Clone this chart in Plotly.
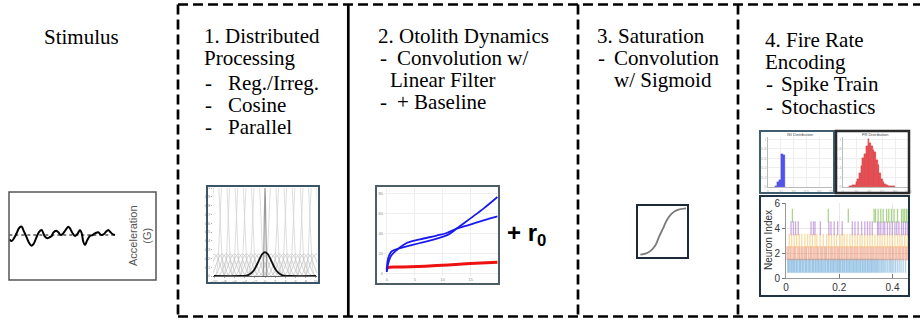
import plotly.graph_objects as go

W, H = 920, 322

# ---------------- data ----------------
# Stimulus waveform (time, acceleration)
STIM_T = [0.0, 0.22, 0.44, 0.69, 0.95, 1.17, 1.39, 1.64, 1.89, 2.11, 2.33, 2.59, 2.84, 3.06,
          3.22, 3.38, 3.60, 3.79, 4.01, 4.16, 4.42, 4.64, 4.86, 5.11, 5.33, 5.58, 5.74, 5.99,
          6.21, 6.44, 6.69, 6.85, 7.00, 7.16, 7.38, 7.63, 7.89, 8.11, 8.26, 8.42, 8.58, 8.74,
          8.96, 9.15, 9.37, 9.53, 9.75, 10.0]
STIM_ACC = [-0.43, -0.6, -0.33, 0.17, 0.73, 0.83, 0.33, -0.23, -0.83, -1.07, -0.83, -0.17, 0.33, 0.5,
            0.17, -0.17, -0.33, -0.23, -0.1, 0.23, 0.43, 0.27, 0.0, 0.17, 0.5, 0.83, 0.67, 0.17,
            -0.1, 0.1, 0.5, 0.17, -0.67, -1.0, -0.5, -0.1, 0.0, 0.17, 0.23, 0.27, 0.1, 0.0,
            0.1, 0.33, 0.5, 0.33, 0.1, 0.0]

# Distributed cosine basis
BUMP_OFFSETS = [-1.0, -0.8, -0.6, -0.4, -0.2, 0.0, 0.2, 0.4, 0.6, 0.8, 1.0]
BUMP_PROFILE = [0.0, 0.095, 0.345, 0.655, 0.905, 1.0, 0.905, 0.655, 0.345, 0.095, 0.0]
TALL_CENTERS = [-9.6, -8.0, -6.4, -4.8, -3.2, -1.6, 1.6, 3.2, 4.8, 6.4, 8.0, 9.6]
TALL_HALFWIDTH = 1.6
TALL_HEIGHT = 1.35
LOW_CENTERS = [-10.0, -9.2, -8.4, -7.6, -6.8, -6.0, -5.2, -4.4, -3.6, -2.8, -2.0, -1.2, -0.4,
               0.4, 1.2, 2.0, 2.8, 3.6, 4.4, 5.2, 6.0, 6.8, 7.6, 8.4, 9.2, 10.0]
LOW_HALFWIDTH = 2.4
LOW_HEIGHT = 0.25
SPIKE_CENTER = 0.0
SPIKE_HALFWIDTH = 0.35
GAUSS_X = [-10, -5, -4, -3.5, -3, -2.5, -2, -1.5, -1, -0.5, 0, 0.5, 1, 1.5, 2, 2.5, 3, 3.5, 4, 5, 10]
GAUSS_Y = [0, 0, 0.002, 0.007, 0.019, 0.043, 0.083, 0.139, 0.201, 0.251, 0.27,
           0.251, 0.201, 0.139, 0.083, 0.043, 0.019, 0.007, 0.002, 0, 0]

# Otolith dynamics responses
OTO_A_X = [0, 0.12, 0.42, 0.89, 2.08, 3.57, 5.95, 8.93, 11.0, 12.5, 14.9, 17.3, 19.8]
OTO_A_Y = [1.3, 11.3, 18.0, 22.0, 24.7, 27.0, 30.3, 34.7, 38.7, 44.7, 54.7, 64.7, 76.3]
OTO_B_X = [0, 0.24, 0.71, 1.49, 2.08, 3.57, 5.95, 8.93, 10.7, 12.5, 14.9, 17.3, 19.8]
OTO_B_Y = [2.3, 9.7, 17.0, 22.0, 24.7, 30.3, 34.0, 37.7, 40.3, 44.7, 48.7, 53.0, 57.0]
OTO_R_X = [0, 0.18, 2.98, 8.93, 14.9, 19.8]
OTO_R_Y = [4.3, 5.7, 6.3, 7.7, 9.7, 11.0]

# Sigmoid
SIG_X = [0.03, 0.14, 0.24, 0.35, 0.43, 0.52, 0.59, 0.69, 0.82, 1.0]
SIG_Y = [0.03, 0.05, 0.10, 0.22, 0.40, 0.58, 0.73, 0.86, 0.94, 0.97]

# ISI histogram (blue) and firing-rate histogram (red)
HB_X = [13.0, 16.1, 19.2, 22.4, 25.5]
HB_Y = [0.03, 0.11, 0.15, 0.70, 0.67]
HR_X = [10.4, 13.0, 15.6, 18.2, 20.8, 23.4, 26.0, 28.6, 31.2, 33.8, 36.4, 39.0, 41.6, 44.2,
        46.8, 49.4, 52.0, 54.6, 57.2, 59.8, 62.4, 65.0, 67.6, 70.2, 72.8, 75.4, 78.0]
HR_Y = [0.013, 0.02, 0.033, 0.047, 0.1, 0.167, 0.3, 0.433, 0.6, 0.7, 0.867, 1.0, 0.933, 0.867,
        0.767, 0.733, 0.567, 0.467, 0.3, 0.167, 0.1, 0.067, 0.047, 0.03, 0.027, 0.015, 0.013]

# Spike trains (seconds) per neuron index
SPIKES_1 = [0.006, 0.010, 0.013, 0.018, 0.021, 0.025, 0.029, 0.032, 0.037, 0.040, 0.044, 0.049,
            0.052, 0.055, 0.060, 0.063, 0.067, 0.072, 0.075, 0.078, 0.083, 0.087, 0.090, 0.094,
            0.099, 0.102, 0.105, 0.110, 0.113, 0.117, 0.121, 0.124, 0.128, 0.132, 0.135, 0.139,
            0.143, 0.147, 0.150, 0.155, 0.158, 0.161, 0.166, 0.169, 0.173, 0.177, 0.180, 0.184,
            0.188, 0.192, 0.195, 0.199, 0.203, 0.206, 0.211, 0.214, 0.218, 0.221, 0.226, 0.229,
            0.233, 0.237, 0.240, 0.244, 0.248, 0.252, 0.255, 0.259, 0.263, 0.266, 0.270, 0.274,
            0.278, 0.281, 0.286, 0.289, 0.293, 0.297, 0.300, 0.305, 0.308, 0.312, 0.316, 0.320,
            0.323, 0.327, 0.331, 0.335, 0.339, 0.343, 0.347, 0.352, 0.357, 0.361, 0.366, 0.371,
            0.376, 0.382, 0.388, 0.393, 0.398, 0.405, 0.411, 0.418, 0.425, 0.432, 0.440, 0.449]
SPIKES_2 = [0.004, 0.009, 0.015, 0.019, 0.026, 0.031, 0.035, 0.042, 0.048, 0.052, 0.058, 0.063,
            0.069, 0.074, 0.078, 0.085, 0.091, 0.095, 0.101, 0.106, 0.112, 0.117, 0.121, 0.128,
            0.133, 0.138, 0.144, 0.149, 0.153, 0.160, 0.166, 0.171, 0.176, 0.182, 0.187, 0.193,
            0.198, 0.203, 0.209, 0.214, 0.220, 0.226, 0.230, 0.236, 0.242, 0.247, 0.252, 0.258,
            0.263, 0.268, 0.274, 0.280, 0.285, 0.290, 0.296, 0.301, 0.307, 0.312, 0.318, 0.323,
            0.328, 0.334, 0.339, 0.345, 0.350, 0.356, 0.361, 0.366, 0.372, 0.377, 0.383, 0.388,
            0.393, 0.399, 0.404, 0.410, 0.415, 0.421, 0.426, 0.431, 0.437, 0.442, 0.448, 0.453, 0.458]
SPIKES_3 = [0.012, 0.021, 0.031, 0.040, 0.050, 0.059, 0.071, 0.081, 0.090, 0.099, 0.109, 0.116,
            0.128, 0.140, 0.153, 0.161, 0.171, 0.181, 0.190, 0.203, 0.211, 0.219, 0.229, 0.240,
            0.249, 0.259, 0.268, 0.278, 0.286, 0.296, 0.306, 0.315, 0.324, 0.334, 0.344, 0.353,
            0.361, 0.371, 0.381, 0.390, 0.399, 0.409, 0.419, 0.428, 0.436, 0.446, 0.456]
SPIKES_4 = [0.019, 0.028, 0.036, 0.046, 0.094, 0.103, 0.109, 0.129, 0.161, 0.169, 0.181, 0.194,
            0.211, 0.249, 0.259, 0.271, 0.284, 0.296, 0.306, 0.315, 0.324, 0.344, 0.349, 0.356,
            0.365, 0.371, 0.381, 0.390, 0.399, 0.409, 0.416, 0.424, 0.434, 0.441, 0.449, 0.456]
SPIKES_5 = [0.024, 0.159, 0.234, 0.331, 0.336, 0.346, 0.356, 0.365, 0.378, 0.386, 0.396, 0.406,
            0.419, 0.434, 0.440, 0.446, 0.453, 0.459]
SPIKE_ROWS = [SPIKES_1, SPIKES_2, SPIKES_3, SPIKES_4, SPIKES_5]
SPIKE_COLORS = ["rgba(80,155,210,0.45)", "rgba(232,125,85,0.5)", "rgba(246,195,100,0.6)",
                "rgba(170,115,205,0.6)", "rgba(135,195,90,0.7)"]

# Texts
STIM_TITLE = "Stimulus"
COL1 = ["1. Distributed", "Processing"]
COL1_ITEMS = ["Reg./Irreg.", "Cosine", "Parallel"]
COL2 = ["2. Otolith Dynamics"]
COL2_ITEMS = ["Convolution w/", "Linear Filter", "+ Baseline"]
COL3 = ["3. Saturation"]
COL3_ITEMS = ["Convolution", "w/ Sigmoid"]
COL4 = ["4. Fire Rate", "Encoding"]
COL4_ITEMS = ["Spike Train", "Stochastics"]

# ---------------- helpers ----------------
def fx(x):
    return x / W


def fy(y):
    return 1 - y / H


fig = go.Figure()
layout_axes = {}


def add_axes(n, x0, x1, y0, y1, xr, yr, xkw=None, ykw=None):
    base = dict(showgrid=False, zeroline=False, showticklabels=False, ticks="",
                fixedrange=True, automargin=False, showline=False)
    xa = dict(base, domain=[fx(x0), fx(x1)], range=xr, anchor="y%d" % n)
    ya = dict(base, domain=[fy(y1), fy(y0)], range=yr, anchor="x%d" % n)
    if xkw:
        xa.update(xkw)
    if ykw:
        ya.update(ykw)
    layout_axes["xaxis%d" % n] = xa
    layout_axes["yaxis%d" % n] = ya
    return "x%d" % n, "y%d" % n


# 1. stimulus
xa, ya = add_axes(1, 9, 156, 192, 280, [-0.03, 13.88], [-4.5, 4.3])
fig.add_trace(go.Scatter(x=[STIM_T[0], STIM_T[-1]], y=[0, 0], mode="lines",
                         line=dict(color="black", width=1.2, dash="dot"), xaxis=xa, yaxis=ya))
fig.add_trace(go.Scatter(x=STIM_T, y=STIM_ACC, mode="lines", line=dict(color="black", width=2, shape="spline"),
                         xaxis=xa, yaxis=ya))

# 2. cosine basis
tiny = dict(size=4, color="#888", family="Liberation Sans")
xa, ya = add_axes(2, 213, 317, 188, 276, [-10.2, 10.2], [0, 1.0],
                  xkw=dict(showticklabels=True, tickvals=[-10, -8, -6, -4, -2, 0, 2, 4, 6, 8, 10],
                           tickfont=tiny, ticks="outside", ticklen=1, tickcolor="#aaa",
                           showline=True, linecolor="#666", linewidth=1),
                  ykw=dict(showticklabels=True, tickvals=[0, 0.1, 0.2, 0.3, 0.4, 0.5, 0.6, 0.7, 0.8, 0.9, 1.0],
                           tickfont=tiny, ticks="outside", ticklen=1, tickcolor="#aaa"))
for c in TALL_CENTERS:
    fig.add_trace(go.Scatter(x=[c + o * TALL_HALFWIDTH for o in BUMP_OFFSETS],
                             y=[p * TALL_HEIGHT for p in BUMP_PROFILE], mode="lines",
                             line=dict(color="#d4d4d4", width=0.8, shape="spline"), xaxis=xa, yaxis=ya))
for c in LOW_CENTERS:
    fig.add_trace(go.Scatter(x=[c + o * LOW_HALFWIDTH for o in BUMP_OFFSETS],
                             y=[p * LOW_HEIGHT for p in BUMP_PROFILE], mode="lines",
                             line=dict(color="#c4c4c4", width=0.8, shape="spline"), xaxis=xa, yaxis=ya))
fig.add_trace(go.Scatter(x=[SPIKE_CENTER + o * SPIKE_HALFWIDTH for o in BUMP_OFFSETS], y=BUMP_PROFILE,
                         mode="lines", line=dict(color="#9a9a9a", width=1.2), xaxis=xa, yaxis=ya))
fig.add_trace(go.Scatter(x=GAUSS_X, y=GAUSS_Y, mode="lines", line=dict(color="#111", width=1.8, shape="spline"),
                         xaxis=xa, yaxis=ya))

# 3. otolith dynamics
xa, ya = add_axes(3, 384, 498, 188, 276, [-0.5, 19.9], [-2.7, 85.3],
                  xkw=dict(showticklabels=True, tickvals=[0, 5, 10, 15], tickfont=tiny, showgrid=True,
                           gridcolor="#eeeeee", gridwidth=1),
                  ykw=dict(showticklabels=True, tickvals=[0, 20, 40, 60, 80], tickfont=tiny, showgrid=True,
                           gridcolor="#eeeeee", gridwidth=1))
fig.add_trace(go.Scatter(x=OTO_R_X, y=OTO_R_Y, mode="lines", line=dict(color="#ee1111", width=3, shape="spline"),
                         xaxis=xa, yaxis=ya))
fig.add_trace(go.Scatter(x=OTO_B_X, y=OTO_B_Y, mode="lines", line=dict(color="#1a1aee", width=1.8, shape="spline"),
                         xaxis=xa, yaxis=ya))
fig.add_trace(go.Scatter(x=OTO_A_X, y=OTO_A_Y, mode="lines", line=dict(color="#1a1aee", width=1.8, shape="spline"),
                         xaxis=xa, yaxis=ya))

# 4. sigmoid
xa, ya = add_axes(4, 638, 687, 206, 257, [-0.02, 1.02], [-0.02, 1.02])
fig.add_trace(go.Scatter(x=SIG_X, y=SIG_Y, mode="lines", line=dict(color="#7a7a7a", width=1.8, shape="spline"),
                         xaxis=xa, yaxis=ya))

# 5. histograms
hist_x = dict(showticklabels=True, tickvals=[0, 20, 40, 60, 80, 100], tickfont=dict(size=4, color="#aaa"),
              showgrid=True, gridcolor="#eeeeee", showline=True, linecolor="#bbb", linewidth=0.5)
hist_y = dict(showticklabels=True, tickvals=[0, 0.2, 0.4, 0.6, 0.8, 1.0], tickfont=dict(size=4, color="#aaa"),
              showgrid=True, gridcolor="#eeeeee", showline=True, linecolor="#bbb", linewidth=0.5)
xa, ya = add_axes(5, 768, 832, 137, 187, [0, 100], [0, 1.05], xkw=hist_x, ykw=hist_y)
fig.add_trace(go.Bar(x=HB_X, y=HB_Y, width=3.1, marker=dict(color="#5555f0", line=dict(color="#3333cc", width=0.3)),
                     xaxis=xa, yaxis=ya))
xa, ya = add_axes(6, 843, 908, 137, 187, [0, 100], [0, 1.05], xkw=hist_x, ykw=hist_y)
fig.add_trace(go.Bar(x=HR_X, y=HR_Y, width=2.6, marker=dict(color="#ef5055", line=dict(color="#c03035", width=0.3)),
                     xaxis=xa, yaxis=ya))

# 6. raster
sans = "Liberation Sans"
xa, ya = add_axes(7, 786, 909, 203.3, 278.3, [0, 0.462], [0, 6],
                  xkw=dict(showticklabels=True, tickvals=[0, 0.2, 0.4], ticktext=["0", "0.2", "0.4"],
                           tickfont=dict(family=sans, size=10, color="#333"), showgrid=True,
                           gridcolor="#e8e8e8", showline=True, linecolor="#999", linewidth=1,
                           ticks="inside", ticklen=4, tickcolor="#777"),
                  ykw=dict(showticklabels=True, tickvals=[0, 2, 4, 6],
                           tickfont=dict(family=sans, size=10, color="#333"), showgrid=True,
                           gridcolor="#e8e8e8", showline=True, linecolor="#999", linewidth=1,
                           ticks="outside", ticklen=3, tickcolor="#777"))
for i, (row, col) in enumerate(zip(SPIKE_ROWS, SPIKE_COLORS)):
    fig.add_trace(go.Scatter(x=row, y=[i + 1] * len(row), mode="markers",
                             marker=dict(symbol="line-ns", size=10, line=dict(color=col, width=1.3)),
                             xaxis=xa, yaxis=ya, cliponaxis=False))

# ---------------- shapes ----------------
shapes = []
DASH = "10px,5px"
LW = 2.7
shapes.append(dict(type="line", xref="paper", yref="paper", x0=fx(178), x1=fx(920), y0=fy(4.5), y1=fy(4.5),
                   line=dict(color="black", width=LW, dash=DASH)))
shapes.append(dict(type="line", xref="paper", yref="paper", x0=fx(178), x1=fx(920), y0=fy(316.5), y1=fy(316.5),
                   line=dict(color="black", width=LW, dash=DASH)))
for xv in [178, 578, 738]:
    shapes.append(dict(type="line", xref="paper", yref="paper", x0=fx(xv), x1=fx(xv), y0=fy(4.5), y1=fy(316.5),
                       line=dict(color="black", width=LW, dash=DASH)))
shapes.append(dict(type="line", xref="paper", yref="paper", x0=fx(348.3), x1=fx(348.3), y0=fy(4.5), y1=fy(316.5),
                   line=dict(color="black", width=LW)))


def frame(x0, y0, x1, y1, color, width):
    shapes.append(dict(type="rect", xref="paper", yref="paper", x0=fx(x0), x1=fx(x1), y0=fy(y1), y1=fy(y0),
                       line=dict(color=color, width=width), fillcolor="rgba(0,0,0,0)"))


frame(9, 192, 156, 280, "#555555", 1.5)
frame(207, 186, 319, 283, "#3a5566", 2)
frame(376, 186, 499, 284, "#4d5d68", 2)
frame(637, 205, 688, 258, "#1c2a38", 2)
frame(760, 131, 834, 193, "#3f5f70", 2)
frame(836, 131, 909, 193, "#2a2a2a", 2.5)
frame(760, 196, 909, 296, "#1f3344", 2)

# ---------------- annotations ----------------
SERIF = "Liberation Serif"
FS = 21
anns = []


def text(x, baseline, s, anchor="left"):
    anns.append(dict(x=fx(x), y=fy(baseline - 7), xref="paper", yref="paper", xanchor=anchor, yanchor="middle",
                     text=s, showarrow=False, font=dict(family=SERIF, size=FS, color="black")))


text(81, 44, STIM_TITLE, anchor="center")
# column 1
text(202, 42.7, COL1[0])
text(202, 65, COL1[1])
for s, b in zip(COL1_ITEMS, [90, 112, 134]):
    text(203, b, "-")
    text(226, b, s)
# column 2
text(376, 42.7, COL2[0])
text(378, 65, "-")
text(395, 65, COL2_ITEMS[0])
text(388, 87, COL2_ITEMS[1])
text(378, 109, "-")
text(395, 109, COL2_ITEMS[2])
# column 3
text(595, 42.7, COL3[0])
text(596, 65, "-")
text(612, 65, COL3_ITEMS[0])
text(612, 87.3, COL3_ITEMS[1])
# column 4
text(763, 46.7, COL4[0])
text(763, 69, COL4[1])
for s, b in zip(COL4_ITEMS, [91.3, 113.7]):
    text(764, b, "-")
    text(779, b, s)

anns.append(dict(x=fx(505), y=fy(234), xref="paper", yref="paper", xanchor="left", yanchor="middle",
                 text="<b>+ r<sub>0</sub></b>", showarrow=False,
                 font=dict(family="Liberation Sans", size=24, color="black")))
anns.append(dict(x=fx(140), y=fy(236), xref="paper", yref="paper", xanchor="center", yanchor="middle",
                 text="Acceleration<br>(G)", textangle=-90, showarrow=False,
                 font=dict(family="Liberation Sans", size=11, color="#555")))
anns.append(dict(x=fx(768), y=fy(240), xref="paper", yref="paper", xanchor="center", yanchor="middle",
                 text="Neuron Index", textangle=-90, showarrow=False,
                 font=dict(family="Liberation Sans", size=10, color="#333")))
anns.append(dict(x=fx(800), y=fy(134), xref="paper", yref="paper", xanchor="center", yanchor="middle",
                 text="ISI Distribution", showarrow=False, font=dict(family="Liberation Sans", size=4, color="#444")))
anns.append(dict(x=fx(875), y=fy(134), xref="paper", yref="paper", xanchor="center", yanchor="middle",
                 text="FR Distribution", showarrow=False, font=dict(family="Liberation Sans", size=4, color="#444")))

fig.update_layout(width=W, height=H, margin=dict(l=0, r=0, t=0, b=0), paper_bgcolor="white",
                  plot_bgcolor="white", showlegend=False, shapes=shapes, annotations=anns,
                  bargap=0, **layout_axes)
fig.write_html("out.html", include_plotlyjs=True, config={"displayModeBar": False})
